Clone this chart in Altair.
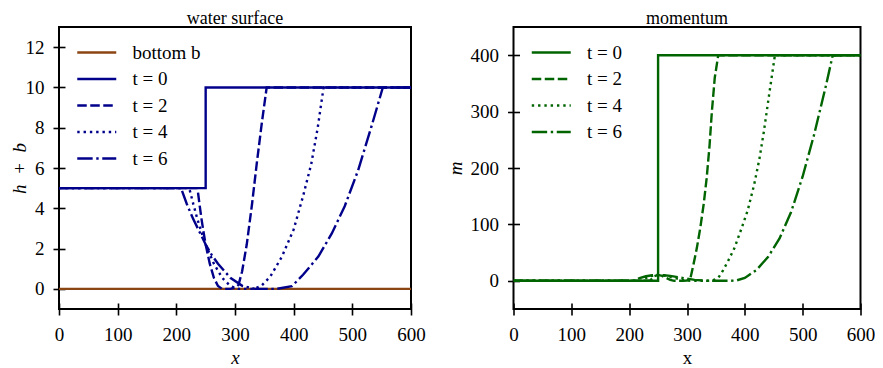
import altair as alt
import pandas as pd

# ---------------- data ----------------
series_h = ["bottom b", "t = 0", "t = 2", "t = 4", "t = 6"]
series_m = ["t = 0", "t = 2", "t = 4", "t = 6"]

x_ticks = [0, 100, 200, 300, 400, 500, 600]
h_ticks = [0, 2, 4, 6, 8, 10, 12]
m_ticks = [0, 100, 200, 300, 400]

bottom_x = [0, 600]
bottom_y = [0, 0]

h0_x = [0, 250, 250, 600]
h0_y = [5, 5, 10, 10]

h2_x = [0, 236, 239.5, 243, 246.5, 250, 257, 264, 271, 278, 292, 300, 306, 312, 320, 329, 337, 346, 354, 600]
h2_y = [5, 5, 4.2, 3.45, 2.8, 2.2, 1.25, 0.55, 0.14, 0, 0, 0.05, 0.2, 0.85, 2.2, 4.2, 6.2, 8.3, 10, 10]

h4_x = [0, 222, 229, 236, 243, 250, 264, 278, 292, 306, 332, 345, 360, 380, 400, 416, 430, 441, 451, 600]
h4_y = [5, 5, 4.2, 3.45, 2.8, 2.2, 1.25, 0.55, 0.14, 0, 0, 0.15, 0.6, 1.6, 2.95, 4.6, 6.2, 8.0, 10, 10]

h6_x = [0, 208, 218, 229, 240, 250, 260, 271, 292, 313, 334, 371, 397, 416, 442, 465, 487, 510, 532, 552, 600]
h6_y = [5, 5, 4.2, 3.45, 2.8, 2.2, 1.7, 1.25, 0.55, 0.14, 0, 0, 0.13, 0.7, 1.6, 2.75, 4.1, 5.9, 8.0, 10, 10]

m0_x = [0, 250, 250, 600]
m0_y = [0, 0, 400, 400]

m2_x = [0, 236, 243, 250, 257, 264, 271, 278, 292, 300, 306, 311, 317, 323, 329, 334, 339, 343, 348, 354, 600]
m2_y = [0, 0, 8, 10.4, 8.7, 5.2, 1.6, 0, 0, 0.5, 5, 28, 58, 94, 137, 182, 240, 300, 360, 400, 400]

m4_x = [0, 222, 229, 236, 243, 250, 264, 278, 292, 306, 335, 345, 354, 362, 371, 382, 394, 405, 416, 425, 433, 442, 452, 600]
m4_y = [0, 0, 4.9, 8.1, 9.8, 10.4, 8.7, 5.2, 1.6, 0, 0, 1, 5, 18, 35, 58, 92, 125, 170, 215, 265, 330, 400, 400]

m6_x = [0, 208, 218, 229, 240, 250, 260, 271, 292, 313, 334, 371, 385, 400, 420, 440, 460, 480, 500, 520, 540, 552, 600]
m6_y = [0, 0, 4.9, 8.1, 9.8, 10.4, 9.9, 8.7, 5.2, 1.6, 0, 0, 0.5, 5, 19, 42, 75, 122, 185, 260, 345, 400, 400]

# ---------------- styling ----------------
FONT = "Liberation Serif, Times New Roman, Times, Nimbus Roman, DejaVu Serif, serif"
BROWN = "#8B4513"
BLUE = "#00008B"
GREEN = "#006400"
DASHES = {"solid": [1, 0], "dashed": [9.5, 3.5], "dotted": [2.4, 3.9],
          "dashdot": [15.4, 3.6, 2.4, 3.6]}
H = 282


def frame(pairs):
    rows = []
    for name, xs, ys in pairs:
        for i, (xv, yv) in enumerate(zip(xs, ys)):
            rows.append({"x": xv, "y": yv, "series": name, "order": i})
    return pd.DataFrame(rows)


df_h = frame([
    ("bottom b", bottom_x, bottom_y),
    ("t = 0", h0_x, h0_y),
    ("t = 2", h2_x, h2_y),
    ("t = 4", h4_x, h4_y),
    ("t = 6", h6_x, h6_y),
])
df_m = frame([
    ("t = 0", m0_x, m0_y),
    ("t = 2", m2_x, m2_y),
    ("t = 4", m4_x, m4_y),
    ("t = 6", m6_x, m6_y),
])

AX = dict(domain=False, grid=False, ticks=True, tickSize=12, tickWidth=1.6,
          tickColor="black", offset=-6, labelFont=FONT, labelFontSize=19,
          labelColor="black", labelFlush=False, labelOverlap=False,
          titleFont=FONT, titleFontSize=19, titleFontWeight="normal",
          titleColor="black", titleBaseline="alphabetic", titleAlign="center")


def legend():
    return alt.Legend(title=None, orient="none", legendX=36.5, legendY=14.5,
                      symbolType="M-3,0H1", symbolSize=380, symbolStrokeWidth=2.4,
                      labelFont=FONT, labelFontSize=19, labelColor="black",
                      labelOffset=15, rowPadding=5.5, padding=0)


def panel(df, names, colors, dashes, ydom, yticks, ytitle, ytitle_x, title, xstyle, w):
    return alt.Chart(df).mark_line(strokeWidth=2.4, strokeCap="butt", clip=True).encode(
        x=alt.X("x:Q", scale=alt.Scale(domain=[0, 600], nice=False, zero=False),
                axis=alt.Axis(values=x_ticks, title="x", titleFontStyle=xstyle,
                              titleX=w / 2, titleY=60, labelPadding=10, **AX)),
        y=alt.Y("y:Q", scale=alt.Scale(domain=ydom, nice=False, zero=False),
                axis=alt.Axis(values=yticks, title=ytitle, titleFontStyle="italic",
                              titleAngle=270, titleX=ytitle_x, titleY=H / 2,
                              labelPadding=9, **AX)),
        color=alt.Color("series:N", scale=alt.Scale(domain=names, range=colors),
                        legend=legend()),
        strokeDash=alt.StrokeDash("series:N", scale=alt.Scale(domain=names, range=dashes),
                                  legend=legend()),
        order="order:Q",
    ).properties(
        width=w, height=H,
        title=alt.TitleParams(title, font=FONT, fontSize=18, fontWeight="normal",
                              color="black", offset=-1, anchor="middle"),
    )


left = panel(df_h, series_h, [BROWN, BLUE, BLUE, BLUE, BLUE],
             [DASHES["solid"], DASHES["solid"], DASHES["dashed"], DASHES["dotted"], DASHES["dashdot"]],
             [-1, 13], h_ticks, "h\u2002+\u2002b", -40, "water surface", "italic", 352)
right = panel(df_m, series_m, [GREEN, GREEN, GREEN, GREEN],
              [DASHES["solid"], DASHES["dashed"], DASHES["dotted"], DASHES["dashdot"]],
              [-50, 450], m_ticks, "m", -58.5, "momentum", "normal", 347)

chart = alt.hconcat(left, right, spacing=102.5, bounds="flush").resolve_scale(
    color="independent", strokeDash="independent"
).resolve_legend(color="independent", strokeDash="independent").configure_view(
    stroke="black", strokeWidth=2
).properties(
    autosize=alt.AutoSizeParams(type="none"),
    padding={"left": 51, "top": 19, "right": 816, "bottom": 341},
    background="white",
)

chart.save("out.html", embed_options={"renderer": "svg", "actions": False})
